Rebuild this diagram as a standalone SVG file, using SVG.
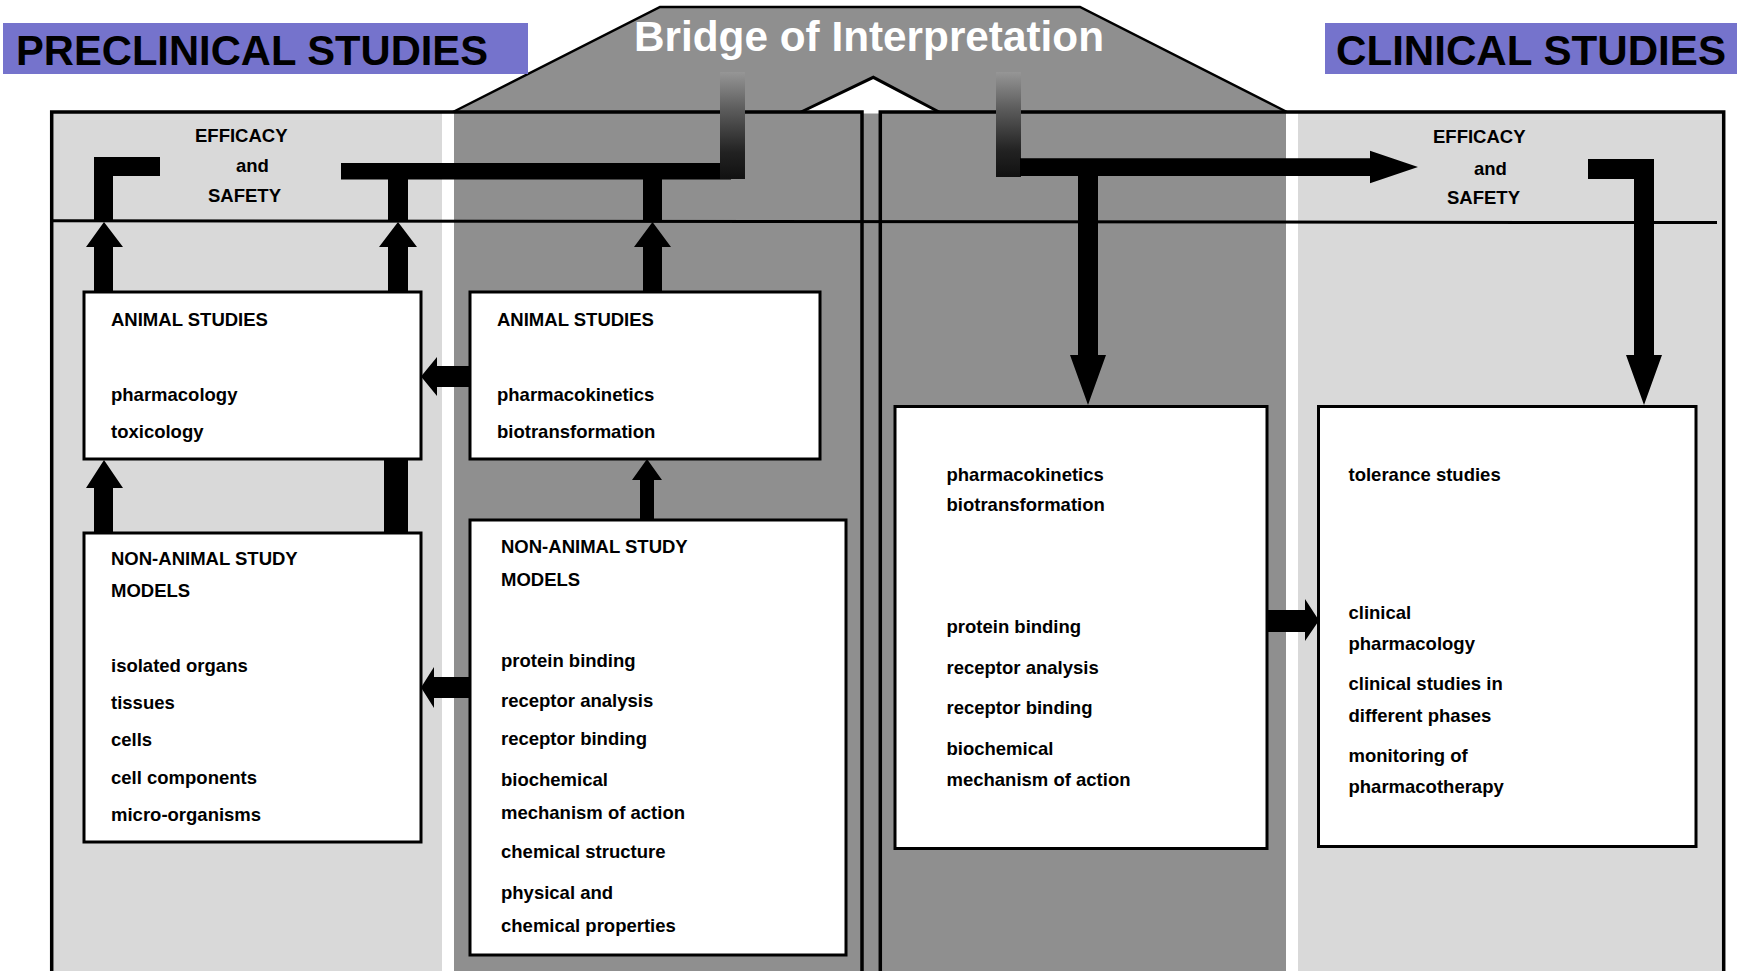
<svg xmlns="http://www.w3.org/2000/svg" width="1737" height="971" viewBox="0 0 1737 971">
<defs>
<style>
.t{font-family:"Liberation Sans",Arial,sans-serif;font-weight:bold;font-size:18.5px;fill:#000}
.big{font-family:"Liberation Sans",Arial,sans-serif;font-weight:bold;font-size:42px}
.node{fill:#fff;stroke:#000;stroke-width:3}
.blk{fill:#000}
.lg{fill:#d9d9d9}
.dg{fill:#8f8f8f}
.hdr{fill:#7573cc}
.frame{fill:none;stroke:#000;stroke-width:3.5}
</style>
<linearGradient id="fade" x1="0" y1="0" x2="0" y2="1">
<stop offset="0" stop-color="#969696"/>
<stop offset="0.35" stop-color="#5c5c5c"/>
<stop offset="0.75" stop-color="#222"/>
<stop offset="1" stop-color="#111"/>
</linearGradient>
</defs>
<rect width="1737" height="971" fill="#fff"/>

<g id="bridge">
<polygon class="dg" points="453,112 660,7 1080,7 1287,112"/>
<polyline points="453,112 660,7 1080,7 1287,112" fill="none" stroke="#000" stroke-width="2.5"/>
<rect class="dg" x="862" y="112" width="18" height="880"/>
<polygon points="800,113.5 873.3,77.3 940,113.5" fill="#fff"/>
<polyline points="800,112.5 873.3,77.3 940,112.5" fill="none" stroke="#000" stroke-width="3"/>
<text class="big" x="634" y="50.5" textLength="470" lengthAdjust="spacingAndGlyphs" fill="#fff">Bridge of Interpretation</text>
</g>

<g id="preclinical-panel">
<rect class="lg" x="52" y="112" width="390" height="880"/>
<rect class="dg" x="454" y="112" width="408" height="880"/>
<rect class="frame" x="51.7" y="112" width="810.3" height="900"/>
</g>

<g id="clinical-panel">
<rect class="dg" x="880" y="112" width="406" height="880"/>
<rect class="lg" x="1298" y="112" width="426" height="880"/>
<rect class="frame" x="880.3" y="112" width="843.4" height="900"/>
</g>

<line x1="52" y1="220.8" x2="1717" y2="222.6" stroke="#000" stroke-width="3"/>

<g id="preclinical-header">
<rect class="hdr" x="3" y="23" width="525" height="51"/>
<text class="big" x="16" y="65" textLength="472" lengthAdjust="spacingAndGlyphs" fill="#000">PRECLINICAL STUDIES</text>
</g>
<g id="clinical-header">
<rect class="hdr" x="1325" y="23" width="412" height="51"/>
<text class="big" x="1336" y="65" textLength="390" lengthAdjust="spacingAndGlyphs" fill="#000">CLINICAL STUDIES</text>
</g>

<g id="efficacy-left">
<text class="t" x="195" y="141.5">EFFICACY</text>
<text class="t" x="236" y="172">and</text>
<text class="t" x="208" y="202">SAFETY</text>
</g>
<g id="efficacy-right">
<text class="t" x="1433" y="143">EFFICACY</text>
<text class="t" x="1474" y="174.5">and</text>
<text class="t" x="1447" y="203.5">SAFETY</text>
</g>

<g id="connectors">
<path class="blk" d="M94,221 V157 H160 V176 H113 V221 Z"/>
<rect class="blk" x="341" y="163" width="390" height="16.5"/>
<rect class="blk" x="388" y="178" width="20" height="43"/>
<rect class="blk" x="643" y="178" width="19" height="43"/>
<rect x="720" y="72" width="25" height="107" fill="url(#fade)"/>
<polygon class="blk" points="94,292 94,247 86,247 104,222 123,247 113,247 113,292"/>
<polygon class="blk" points="388,292 388,247 379,247 398,222 417,247 408,247 408,292"/>
<polygon class="blk" points="643,292 643,247 634,247 652.5,222 671,247 662,247 662,292"/>
<polygon class="blk" points="94,533 94,488 86,488 104,460 123,488 113,488 113,533"/>
<rect class="blk" x="384" y="459" width="24" height="74"/>
<polygon class="blk" points="640,520 640,480 632,480 647,459 662,480 654,480 654,520"/>
<polygon class="blk" points="470,366 437,366 437,357 421,376.5 437,396 437,387 470,387"/>
<polygon class="blk" points="470,677 434,677 434,667 421,687.5 434,708 434,698 470,698"/>
<rect x="996" y="72" width="25" height="105" fill="url(#fade)"/>
<polygon class="blk" points="1020,158.3 1370,158.3 1370,150.7 1418,167 1370,183.3 1370,176 1020,176"/>
<polygon class="blk" points="1078,175 1098,175 1098,355 1106,355 1088,405 1070,355 1078,355"/>
<polygon class="blk" points="1588,159 1654,159 1654,355 1662,355 1644,405 1626,355 1634,355 1634,179 1588,179"/>
<polygon class="blk" points="1267,610 1305,610 1305,599 1319,620.5 1305,641 1305,632 1267,632"/>
</g>

<g id="animal-studies-1">
<rect class="node" x="84" y="292" width="337" height="167"/>
<text class="t" x="111" y="326">ANIMAL STUDIES</text>
<text class="t" x="111" y="400.5">pharmacology</text>
<text class="t" x="111" y="437.5">toxicology</text>
</g>
<g id="animal-studies-2">
<rect class="node" x="470" y="292" width="350" height="167"/>
<text class="t" x="497" y="326">ANIMAL STUDIES</text>
<text class="t" x="497" y="400.5">pharmacokinetics</text>
<text class="t" x="497" y="437.5">biotransformation</text>
</g>
<g id="non-animal-1">
<rect class="node" x="84" y="533" width="337" height="309"/>
<text class="t" x="111" y="565">NON-ANIMAL STUDY</text>
<text class="t" x="111" y="597">MODELS</text>
<text class="t" x="111" y="672">isolated organs</text>
<text class="t" x="111" y="709">tissues</text>
<text class="t" x="111" y="746">cells</text>
<text class="t" x="111" y="784">cell components</text>
<text class="t" x="111" y="820.5">micro-organisms</text>
</g>
<g id="non-animal-2">
<rect class="node" x="470" y="520" width="376" height="435"/>
<text class="t" x="501" y="553">NON-ANIMAL STUDY</text>
<text class="t" x="501" y="586">MODELS</text>
<text class="t" x="501" y="666.5">protein binding</text>
<text class="t" x="501" y="706.5">receptor analysis</text>
<text class="t" x="501" y="745">receptor binding</text>
<text class="t" x="501" y="786">biochemical</text>
<text class="t" x="501" y="819">mechanism of action</text>
<text class="t" x="501" y="858">chemical structure</text>
<text class="t" x="501" y="899">physical and</text>
<text class="t" x="501" y="932">chemical properties</text>
</g>
<g id="clinical-pk">
<rect class="node" x="895" y="406.5" width="372" height="442"/>
<text class="t" x="946.5" y="480.5">pharmacokinetics</text>
<text class="t" x="946.5" y="511">biotransformation</text>
<text class="t" x="946.5" y="633">protein binding</text>
<text class="t" x="946.5" y="674">receptor analysis</text>
<text class="t" x="946.5" y="714">receptor binding</text>
<text class="t" x="946.5" y="755">biochemical</text>
<text class="t" x="946.5" y="786">mechanism of action</text>
</g>
<g id="clinical-studies">
<rect class="node" x="1318.5" y="406.5" width="377.5" height="440"/>
<text class="t" x="1348.5" y="481">tolerance studies</text>
<text class="t" x="1348.5" y="619">clinical</text>
<text class="t" x="1348.5" y="650">pharmacology</text>
<text class="t" x="1348.5" y="689.5">clinical studies in</text>
<text class="t" x="1348.5" y="721.5">different phases</text>
<text class="t" x="1348.5" y="762">monitoring of</text>
<text class="t" x="1348.5" y="793">pharmacotherapy</text>
</g>
</svg>
